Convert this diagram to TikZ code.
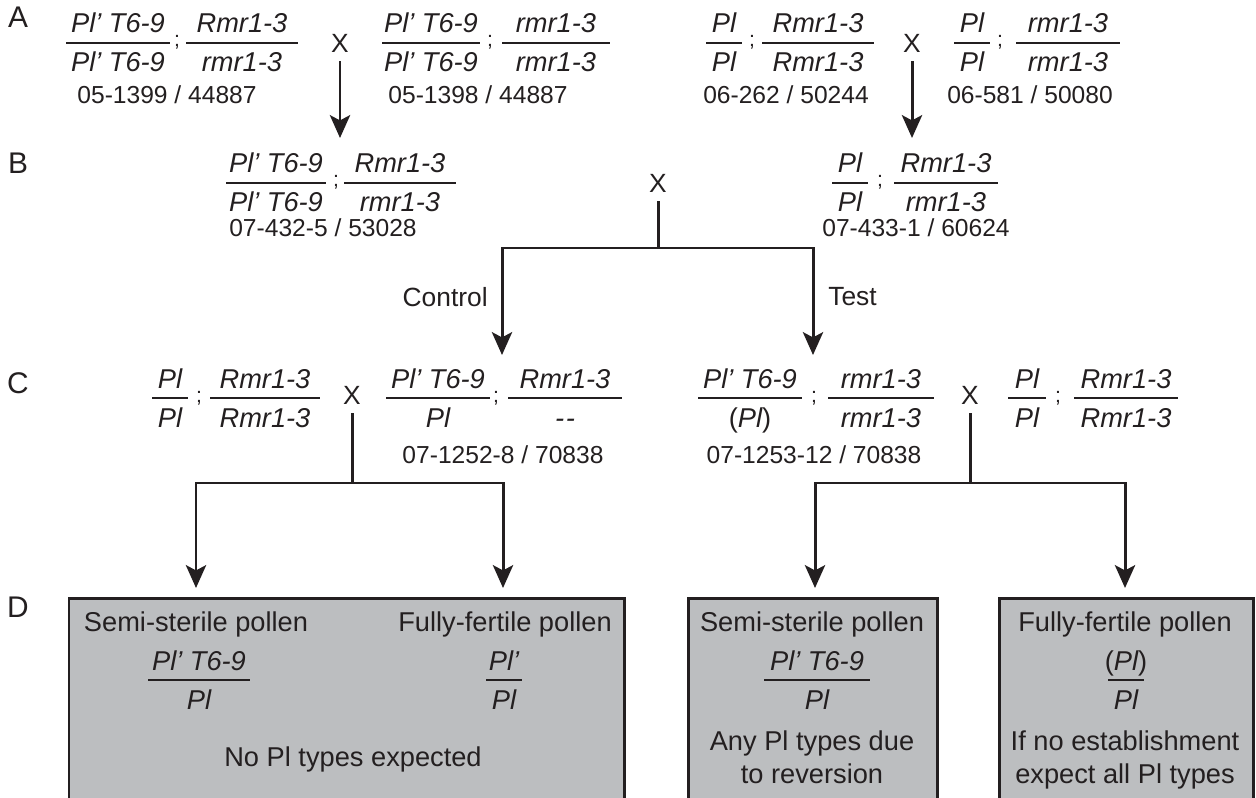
\documentclass[tikz,border=0pt]{standalone}
\usepackage{fontspec}
\setmainfont{Liberation Sans}
\usetikzlibrary{arrows.meta}
\definecolor{ink}{HTML}{231F20}
\definecolor{boxgray}{HTML}{BCBEC0}
% genotype fraction: name, x, y of bar, half width of bar, numerator, denominator
\newcommand\gfrac[6]{%
  \node[gt] (#1n) at ({#2},{#3-10}) {#5};
  \node[gt] (#1d) at ({#2},{#3+29}) {#6};
  \draw[bar] ({#2-#4},{#3}) -- ({#2+#4},{#3});
}
\newcommand\up[1]{{\upshape #1}}
\begin{document}
\begin{tikzpicture}[x=0.02cm,y=-0.02cm,
  every node/.style={text=ink},
  gt/.style={font=\fontsize{15.5}{18}\selectfont\itshape, inner sep=0pt, anchor=base},
  numtxt/.style={font=\fontsize{14}{16}\selectfont, inner sep=0pt},
  lab/.style={font=\fontsize{17}{20}\selectfont, inner sep=0pt},
  ctlab/.style={font=\fontsize{15}{18}\selectfont, inner sep=0pt},
  cross/.style={font=\fontsize{15}{18}\selectfont, inner sep=0pt},
  semi/.style={font=\fontsize{12}{14}\selectfont, inner sep=0pt, anchor=base},
  bar/.style={line width=1.6pt, draw=ink},
  conn/.style={line width=1.7pt, draw=ink},
  arr/.style={conn, -{Stealth[length=13pt,width=11.5pt,inset=3pt]}},
  boxst/.style={draw=ink, line width=1.7pt, fill=boxgray},
  btxt/.style={font=\fontsize{15.5}{18}\selectfont, inner sep=0pt, anchor=base},
]
\useasboundingbox (0,0) rectangle (1256,797);

% row labels
\node[lab] (LA) at (18,17) {A};
\node[lab] (LB) at (18,163) {B};
\node[lab] (LC) at (18,383) {C};
\node[lab] (LD) at (18,607) {D};

% ---------- Row A ----------
\gfrac{a1}{118}{43}{52}{Pl’ T6-9}{Pl’ T6-9}
\node[semi] (sa1) at (177,47) {;};
\gfrac{a2}{242}{43}{56}{Rmr1-3}{rmr1-3}
\node[numtxt] (na1) at (167,95) {05-1399 / 44887};
\node[cross] (xa1) at (340,43) {X};
\gfrac{a3}{431}{43}{49}{Pl’ T6-9}{Pl’ T6-9}
\node[semi] (sa2) at (490,47) {;};
\gfrac{a4}{556}{43}{54}{rmr1-3}{rmr1-3}
\node[numtxt] (na2) at (478,95) {05-1398 / 44887};

\gfrac{a5}{724}{43}{18}{Pl}{Pl}
\node[semi] (sa3) at (752,47) {;};
\gfrac{a6}{818}{43}{56}{Rmr1-3}{Rmr1-3}
\node[numtxt] (na3) at (786,95) {06-262 / 50244};
\node[cross] (xa2) at (912,43) {X};
\gfrac{a7}{972}{43}{18}{Pl}{Pl}
\node[semi] (sa4) at (1000,47) {;};
\gfrac{a8}{1068}{43}{52}{rmr1-3}{rmr1-3}
\node[numtxt] (na4) at (1030,95) {06-581 / 50080};

\coordinate (tA1) at (340,138);
\coordinate (tA2) at (912,138);
\draw[arr, shorten <=5pt] (xa1.south) -- (tA1);
\draw[arr, shorten <=5pt] (xa2.south) -- (tA2);

% ---------- Row B ----------
\gfrac{b1}{276}{183}{50}{Pl’ T6-9}{Pl’ T6-9}
\node[semi] (sb1) at (336,187) {;};
\gfrac{b2}{400}{183}{56}{Rmr1-3}{rmr1-3}
\node[numtxt] (nb1) at (323,228) {07-432-5 / 53028};
\node[cross] (xb) at (658,183) {X};
\gfrac{b3}{850}{183}{18}{Pl}{Pl}
\node[semi] (sb2) at (880,187) {;};
\gfrac{b4}{946}{183}{52}{Rmr1-3}{rmr1-3}
\node[numtxt] (nb2) at (916,228) {07-433-1 / 60624};

\coordinate (jB) at (658,248);
\coordinate (tCtl) at (502,355);
\coordinate (tTst) at (813,355);
\draw[conn, shorten <=5pt] (xb.south) -- (jB);
\draw[arr] (jB) -| (tCtl);
\draw[arr] (jB) -| (tTst);
\node[ctlab, anchor=east] (ctl) at (488,297) {Control};
\node[ctlab, anchor=west] (tst) at (828,297) {Test};

% ---------- Row C ----------
\gfrac{c1}{170}{398}{18}{Pl}{Pl}
\node[semi] (sc1) at (199,402) {;};
\gfrac{c2}{265}{398}{55}{Rmr1-3}{Rmr1-3}
\node[cross] (xc1) at (352,395) {X};
\gfrac{c3}{438}{398}{52}{Pl’ T6-9}{Pl}
\node[semi] (sc2) at (496,402) {;};
\gfrac{c4}{565}{398}{57}{Rmr1-3}{-\kern1pt-}
\node[numtxt] (nc1) at (503,455) {07-1252-8 / 70838};

\gfrac{c5}{750}{398}{52}{Pl’ T6-9}{\up{(}Pl\up{)}}
\node[semi] (sc3) at (814,402) {;};
\gfrac{c6}{881}{398}{53}{rmr1-3}{rmr1-3}
\node[numtxt] (nc2) at (814,455) {07-1253-12 / 70838};
\node[cross] (xc2) at (970,395) {X};
\gfrac{c7}{1027}{398}{19}{Pl}{Pl}
\node[semi] (sc4) at (1058,402) {;};
\gfrac{c8}{1126}{398}{52}{Rmr1-3}{Rmr1-3}

\coordinate (jC1) at (352,483);
\coordinate (jC2) at (970,483);
\coordinate (tD1) at (196,588);
\coordinate (tD2) at (503,588);
\coordinate (tD3) at (815,588);
\coordinate (tD4) at (1125,588);
\draw[conn, shorten <=5pt] (xc1.south) -- (jC1);
\draw[arr] (jC1) -| (tD1);
\draw[arr] (jC1) -| (tD2);
\draw[conn, shorten <=5pt] (xc2.south) -- (jC2);
\draw[arr] (jC2) -| (tD3);
\draw[arr] (jC2) -| (tD4);

% ---------- Row D boxes ----------
\begin{scope}
\clip (0,0) rectangle (1256,797);
\draw[boxst] (69,820) rectangle (624,598);
\draw[boxst] (688,820) rectangle (937,598);
\draw[boxst] (999,820) rectangle (1253,598);
\end{scope}

\node[btxt] (d1a) at (196,631) {Semi-sterile pollen};
\gfrac{d1}{199}{680}{51}{Pl’ T6-9}{Pl}
\node[btxt] (d2a) at (505,631) {Fully-fertile pollen};
\gfrac{d2}{504}{680}{18}{Pl’}{Pl}
\node[btxt] (d12) at (353,766) {No Pl types expected};

\node[btxt] (d3a) at (812,631) {Semi-sterile pollen};
\gfrac{d3}{817}{680}{53}{Pl’ T6-9}{Pl}
\node[btxt] (d3b) at (812,750) {Any Pl types due};
\node[btxt] (d3c) at (812,783) {to reversion};

\node[btxt] (d4a) at (1125,631) {Fully-fertile pollen};
\gfrac{d4}{1126}{680}{18}{\up{(}Pl\up{)}}{Pl}
\node[btxt] (d4b) at (1125,750) {If no establishment};
\node[btxt] (d4c) at (1125,783) {expect all Pl types};
\end{tikzpicture}
\end{document}
